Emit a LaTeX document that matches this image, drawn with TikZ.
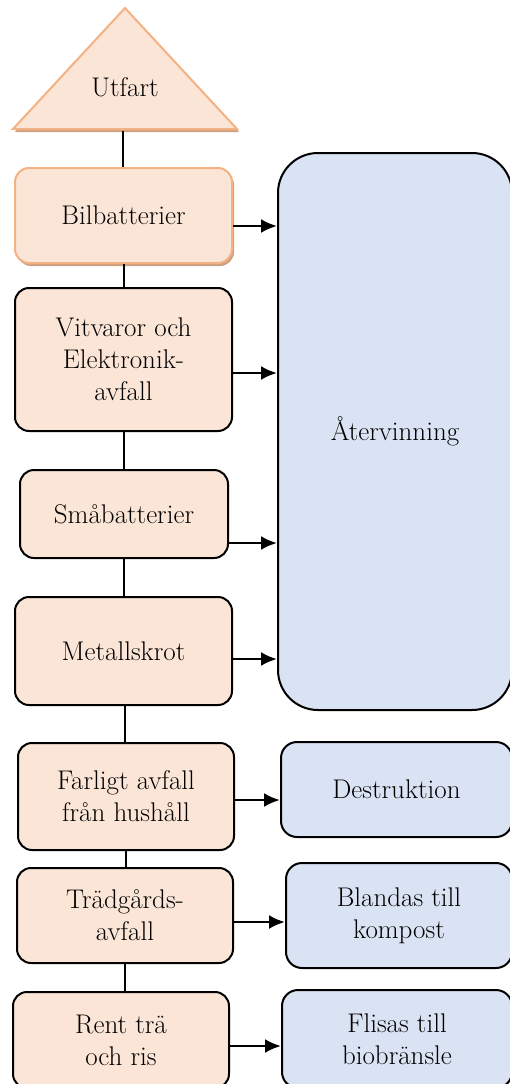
\documentclass[tikz,border=0pt]{standalone}
\usetikzlibrary{shadows,arrows.meta}
\definecolor{peach}{HTML}{FBE5D6}
\definecolor{peachline}{HTML}{F4B183}
\definecolor{peachshade}{HTML}{CDA283}
\definecolor{paleblue}{HTML}{DAE3F3}
\tikzset{
  lbl/.style={font=\fontsize{27}{32}\selectfont},
  src/.style={lbl, draw, line width=2pt, rounded corners=14pt, fill=peach, align=center},
  srcorange/.style={src, draw=peachline, drop shadow={shadow xshift=2pt, shadow yshift=-3pt, fill=peachshade, opacity=1}},
  dest/.style={lbl, draw, line width=2pt, rounded corners=16pt, fill=paleblue, align=center},
  flow/.style={-{Latex[length=16pt,width=14pt]}, line width=2.5pt},
  link/.style={line width=2pt}
}
\begin{document}
\begin{tikzpicture}[x=1pt,y=-1pt]
\clip (0,0) rectangle (510,1084);
% exit triangle
\fill[peachshade] (15,132) -- (127,11) -- (239,132) -- cycle;
\draw[peachline, fill=peach, line width=2pt] (13,129) -- (125,8) -- (237,129) -- cycle;
\node[lbl] (utfart) at (125,87) {Utfart};
\coordinate (utfbase) at (123,131);
% sorted fractions
\node[srcorange, minimum width=217pt, minimum height=95pt] (bil) at (123.5,215.5) {Bilbatterier};
\node[src, minimum width=217pt, minimum height=143pt] (vit) at (123.5,359.5) {Vitvaror och\\Elektronik-\\avfall};
\node[src, minimum width=208pt, minimum height=88pt] (sma) at (124,514) {Småbatterier};
\node[src, minimum width=217pt, minimum height=108pt] (met) at (123.5,651) {Metallskrot};
\node[src, minimum width=216pt, minimum height=107pt] (far) at (126,796.5) {Farligt avfall\\från hushåll};
\node[src, minimum width=216pt, minimum height=95pt] (tra) at (125,915.5) {Trädgårds-\\avfall};
\node[src, minimum width=216pt, minimum height=96pt] (ren) at (121,1040) {Rent trä\\och ris};
% destinations
\node[dest, rounded corners=40pt, minimum width=234pt, minimum height=557pt] (atv) at (395,431.5) {Återvinning};
\node[dest, minimum width=231pt, minimum height=95pt] (des) at (396.5,789.5) {Destruktion};
\node[dest, minimum width=226pt, minimum height=105pt] (bla) at (399,915.5) {Blandas till\\kompost};
\node[dest, minimum width=230pt, minimum height=98pt] (fli) at (397,1039) {Flisas till\\biobränsle};
% chain
\draw[link] (utfbase) -- (utfbase |- bil.north);
\draw[link] (bil.south) -- (bil.south |- vit.north);
\draw[link] (vit.south) -- (vit.south |- sma.north);
\draw[link] (sma.south) -- (sma.south |- met.north);
\draw[link] ([xshift=1.5pt]met.south) -- ([xshift=1.5pt]met.south |- far.north);
\draw[link] (far.south) -- (far.south |- tra.north);
\draw[link] (tra.south) -- (tra.south |- ren.north);
% arrows
\draw[flow] ([yshift=-10.5pt]bil.east) -- ([yshift=-10.5pt]bil.east -| atv.west);
\draw[flow] ([yshift=-13.5pt]vit.east) -- ([yshift=-13.5pt]vit.east -| atv.west);
\draw[flow] ([yshift=-29pt]sma.east) -- ([yshift=-29pt]sma.east -| atv.west);
\draw[flow] ([yshift=-8pt]met.east) -- ([yshift=-8pt]met.east -| atv.west);
\draw[flow] ([yshift=-3.5pt]far.east) -- ([yshift=-3.5pt]far.east -| des.west);
\draw[flow] ([yshift=-6.5pt]tra.east) -- ([yshift=-6.5pt]tra.east -| bla.west);
\draw[flow] ([yshift=-6pt]ren.east) -- ([yshift=-6pt]ren.east -| fli.west);
\end{tikzpicture}
\end{document}
